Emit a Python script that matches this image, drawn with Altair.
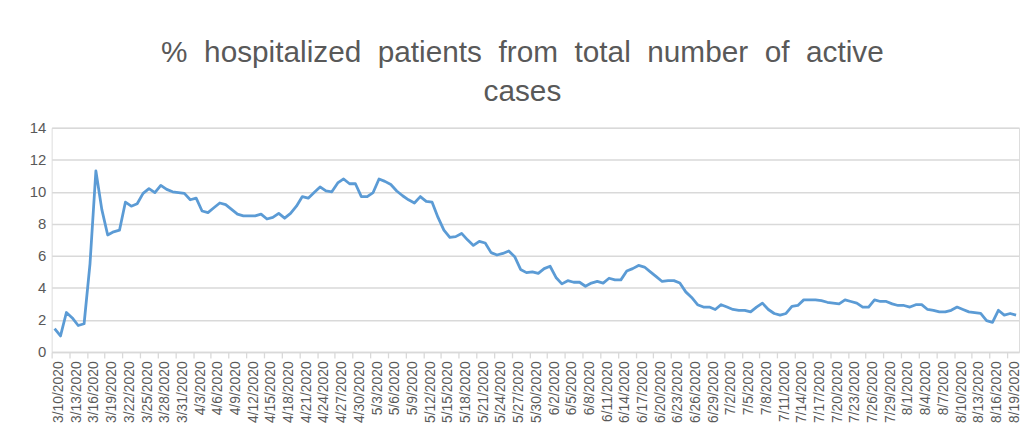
import altair as alt
import pandas as pd

start = pd.Timestamp("2020-03-10")
values = [
    1.45, 1.0, 2.46, 2.12, 1.65, 1.76, 5.5, 11.3, 8.9, 7.3,
    7.5, 7.6, 9.35, 9.1, 9.25, 9.9, 10.2, 9.95, 10.4, 10.15,
    10.0, 9.95, 9.9, 9.5, 9.6, 8.8, 8.7, 9.0, 9.3, 9.2,
    8.9, 8.6, 8.5, 8.5, 8.5, 8.6, 8.3, 8.4, 8.65, 8.35,
    8.65, 9.1, 9.7, 9.6, 9.95, 10.3, 10.05, 10.0, 10.55, 10.8,
    10.5, 10.5, 9.7, 9.7, 9.95, 10.8, 10.65, 10.45, 10.05, 9.75,
    9.5, 9.3, 9.7, 9.4, 9.35, 8.4, 7.6, 7.15, 7.2, 7.4,
    7.0, 6.65, 6.9, 6.8, 6.2, 6.05, 6.15, 6.3, 5.95, 5.15,
    4.95, 5.0, 4.9, 5.2, 5.35, 4.65, 4.25, 4.45, 4.35, 4.35,
    4.1, 4.3, 4.4, 4.3, 4.6, 4.5, 4.5, 5.05, 5.2, 5.4,
    5.3, 5.0, 4.7, 4.4, 4.45, 4.45, 4.3, 3.75, 3.4, 2.95,
    2.8, 2.8, 2.65, 2.95, 2.8, 2.65, 2.6, 2.6, 2.5, 2.8,
    3.05, 2.65, 2.4, 2.3, 2.4, 2.85, 2.9, 3.25, 3.25, 3.25,
    3.2, 3.1, 3.05, 3.0, 3.25, 3.15, 3.05, 2.8, 2.8, 3.25,
    3.15, 3.15, 3.0, 2.9, 2.9, 2.8, 2.95, 2.95, 2.65, 2.6,
    2.5, 2.5, 2.6, 2.8, 2.65, 2.5, 2.45, 2.4, 1.95, 1.85,
    2.6, 2.3, 2.4, 2.3,
]
dates = [(start + pd.Timedelta(days=i)) for i in range(len(values))]
date_labels = [f"{d.month}/{d.day}/{d.year}" for d in dates]
day_index = list(range(len(values)))

tick_days = day_index[::3]

title_words_1 = ["%", "hospitalized", "patients", "from", "total", "number", "of", "active"]
title_words_2 = ["cases"]
gap = "\u00a0\u00a0"
title_lines = [gap.join(title_words_1), gap.join(title_words_2)]

df = pd.DataFrame({"day": day_index, "date": date_labels, "pct": values})

label_array = "[" + ",".join(f"'{s}'" for s in date_labels) + "]"

grey_text = "#595959"
grid_col = "#d9d9d9"

chart = (
    alt.Chart(df)
    .mark_line(color="#5b9bd5", strokeWidth=2.8, strokeJoin="round")
    .encode(
        x=alt.X(
            "day:Q",
            scale=alt.Scale(domain=[-0.5, len(values) - 0.5], nice=False, zero=False),
            axis=alt.Axis(
                title=None,
                values=tick_days,
                labelExpr=f"{label_array}[datum.value]",
                labelAngle=-90,
                labelFont="Liberation Sans",
                labelFontSize=14,
                labelColor=grey_text,
                labelPadding=3,
                labelOffset=7,
                tickOffset=-3,
                tickSize=6,
                tickColor=grid_col,
                tickWidth=1.3,
                domainColor=grid_col,
                domainWidth=1.5,
                grid=False,
                labelOverlap=False,
                labelBound=False,
                labelFlush=False,
            ),
        ),
        y=alt.Y(
            "pct:Q",
            scale=alt.Scale(domain=[0, 14], nice=False),
            axis=alt.Axis(
                title=None,
                values=[0, 2, 4, 6, 8, 10, 12, 14],
                labelFont="Liberation Sans",
                labelFontSize=15,
                labelColor=grey_text,
                labelPadding=6,
                ticks=False,
                domain=False,
                gridColor=grid_col,
                gridWidth=1.5,
            ),
        ),
        tooltip=["date:N", "pct:Q"],
    )
    .properties(
        width=975,
        height=226,
        title=alt.TitleParams(
            text=title_lines,
            font="Liberation Sans",
            fontSize=30,
            fontWeight="normal",
            color=grey_text,
            anchor="middle",
            dx=-13,
            offset=14,
            lineHeight=39,
        ),
        autosize=alt.AutoSizeParams(type="none"),
        padding={"left": 44, "top": 119, "right": 2, "bottom": 72},
    )
    .configure_view(stroke=None)
    .configure(background="white")
)

chart.save("out.html", embed_options={"renderer": "svg", "actions": False})
